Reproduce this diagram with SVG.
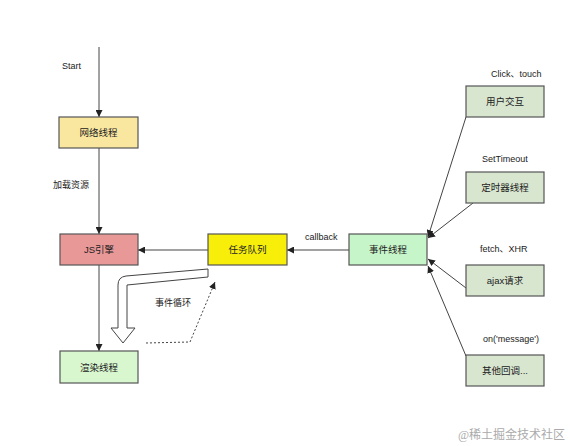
<svg xmlns="http://www.w3.org/2000/svg" width="570" height="446" viewBox="0 0 570 446">
<style>
.box{stroke:#555;stroke-width:1.2}
.t{font-family:"Liberation Sans","Noto Sans CJK SC",sans-serif;font-size:9.5px;fill:#222;text-anchor:middle;dominant-baseline:central}
.l{font-family:"Liberation Sans","Noto Sans CJK SC",sans-serif;font-size:9px;fill:#222}
.c{stroke:#444;stroke-width:1;fill:none}
</style>
<defs>
<marker id="ah" viewBox="0 0 10 10" refX="10" refY="5" markerWidth="7" markerHeight="7" orient="auto" markerUnits="userSpaceOnUse">
<path d="M0,0 L10,5 L0,10 Z" fill="#222"/>
</marker>
</defs>
<rect width="570" height="446" fill="#fff"/>
<g id="connectors">
<line class="c" x1="99" y1="47" x2="99" y2="117" marker-end="url(#ah)"/>
<line class="c" x1="99" y1="148" x2="99" y2="234" marker-end="url(#ah)"/>
<line class="c" x1="99" y1="265" x2="99" y2="351" marker-end="url(#ah)"/>
<line class="c" x1="208" y1="250" x2="138" y2="250" marker-end="url(#ah)"/>
<line class="c" x1="349" y1="250" x2="287" y2="250" marker-end="url(#ah)"/>
<line class="c" x1="466" y1="117" x2="428" y2="237" marker-end="url(#ah)"/>
<line class="c" x1="473" y1="203" x2="428" y2="238" marker-end="url(#ah)"/>
<line class="c" x1="466" y1="288" x2="428" y2="259" marker-end="url(#ah)"/>
<line class="c" x1="466" y1="356" x2="428" y2="266" marker-end="url(#ah)"/>
<path d="M208,269 L126,276 Q118,277 118,285 L118,328 L111,328 L123,343 L135,328 L127,328 L127,285 L208,277 Z" fill="#fff" stroke="#444" stroke-width="1"/>
<path class="c" d="M146,343 L190,342 L215,282" stroke-dasharray="2,2" marker-end="url(#ah)"/>
</g>
<text class="l" x="62" y="69">Start</text>
<text class="l" x="53" y="188">加载资源</text>
<text class="l" x="155" y="306">事件循环</text>
<text class="l" x="305" y="240">callback</text>
<text class="l" x="491" y="77">Click、touch</text>
<text class="l" x="482" y="162">SetTimeout</text>
<text class="l" x="480" y="252">fetch、XHR</text>
<text class="l" x="483" y="342">on('message')</text>
<g id="n_network"><rect class="box" x="59" y="117" width="79" height="31" fill="#f9e79f"/><text class="t" x="98.5" y="132.5">网络线程</text></g>
<g id="n_js"><rect class="box" x="60" y="234" width="78" height="31" fill="#e99898"/><text class="t" x="99" y="249.5">JS引擎</text></g>
<g id="n_render"><rect class="box" x="60" y="351" width="78" height="32" fill="#d9f7cf"/><text class="t" x="99" y="367">渲染线程</text></g>
<g id="n_queue"><rect class="box" x="208" y="234" width="79" height="31" fill="#f7ef0a"/><text class="t" x="247.5" y="249.5">任务队列</text></g>
<g id="n_event"><rect class="box" x="349" y="234" width="78" height="31" fill="#c6f5c9"/><text class="t" x="388" y="249.5">事件线程</text></g>
<g id="n_user"><rect class="box" x="466" y="86" width="78" height="31" fill="#d8e6cf"/><text class="t" x="505" y="101.5">用户交互</text></g>
<g id="n_timer"><rect class="box" x="466" y="172" width="78" height="31" fill="#d8e6cf"/><text class="t" x="505" y="187.5">定时器线程</text></g>
<g id="n_ajax"><rect class="box" x="466" y="265" width="78" height="31" fill="#d8e6cf"/><text class="t" x="505" y="280.5">ajax请求</text></g>
<g id="n_other"><rect class="box" x="466" y="355" width="78" height="31" fill="#d8e6cf"/><text class="t" x="505" y="370.5">其他回调...</text></g>
<text x="565" y="439" font-family="'Liberation Serif','Noto Sans CJK SC',serif" font-size="12" fill="#aaa" text-anchor="end">@稀土掘金技术社区</text>
</svg>
